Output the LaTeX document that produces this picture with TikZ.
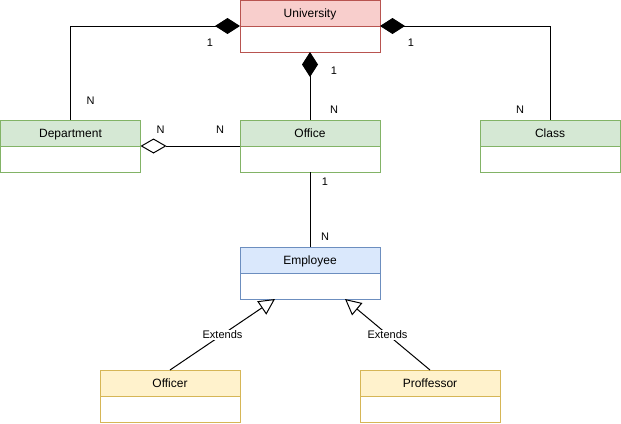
\documentclass[tikz,border=0pt]{standalone}
\usepackage{fontspec}
\setmainfont{Liberation Sans}
\usetikzlibrary{positioning,arrows.meta}

\definecolor{redFill}{HTML}{F8CECC}
\definecolor{redLine}{HTML}{B85450}
\definecolor{greenFill}{HTML}{D5E8D4}
\definecolor{greenLine}{HTML}{82B366}
\definecolor{blueFill}{HTML}{DAE8FC}
\definecolor{blueLine}{HTML}{6C8EBF}
\definecolor{yellowFill}{HTML}{FFF2CC}
\definecolor{yellowLine}{HTML}{D6B656}

\begin{document}
\begin{tikzpicture}[
			x=1pt, y=-1pt,
			head/.style = {shape=rectangle, draw, line width=1pt,
				minimum width=140pt, minimum height=26pt,
				inner sep=0pt, outer sep=0pt,
				text height=8.6pt, text depth=0pt,
				font=\fontsize{12}{14}\selectfont},
			body/.style = {shape=rectangle, draw, fill=white, line width=1pt,
				minimum width=140pt, minimum height=26pt,
				inner sep=0pt, outer sep=0pt},
			conn/.style = {draw, line width=1pt},
			lbl/.style = {inner sep=1pt, text height=8pt, text depth=0pt,
				font=\fontsize{11}{13}\selectfont},
			comp/.style = {-{Diamond[length=25pt,width=16pt]}},
			aggr/.style = {-{Diamond[open,fill=white,length=26pt,width=15pt]}},
			ext/.style = {-{Triangle[open,fill=white,length=16pt,width=16pt]}}]
			\useasboundingbox (0,0) rectangle (621,423);

			% classes
			\node[head, fill=redFill, draw=redLine] (uni) at (310,13) {University};
			\node[body, draw=redLine, below=0pt of uni] (uni-b) {};

			\node[head, fill=greenFill, draw=greenLine] (dept) at (70.5,133) {Department};
			\node[body, draw=greenLine, below=0pt of dept] (dept-b) {};

			\node[head, fill=greenFill, draw=greenLine] (office) at (310,133) {Office};
			\node[body, draw=greenLine, below=0pt of office] (office-b) {};

			\node[head, fill=greenFill, draw=greenLine] (class) at (550,133) {Class};
			\node[body, draw=greenLine, below=0pt of class] (class-b) {};

			\node[head, fill=blueFill, draw=blueLine] (emp) at (310,260) {Employee};
			\node[body, draw=blueLine, below=0pt of emp] (emp-b) {};

			\node[head, fill=yellowFill, draw=yellowLine] (officer) at (170,383) {Officer};
			\node[body, draw=yellowLine, below=0pt of officer] (officer-b) {};

			\node[head, fill=yellowFill, draw=yellowLine] (prof) at (430,383) {Proffessor};
			\node[body, draw=yellowLine, below=0pt of prof] (prof-b) {};

			% relations
			\draw[conn, comp] (dept.north) |- (uni.south west);
			\draw[conn, comp] (class.north) |- (uni.south east);
			\draw[conn, comp] (office.north) -- (uni-b.south);
			\draw[conn, aggr] (office.south west) -- (dept.south east);
			\draw[conn] (emp.north) -- (office-b.south);
			\draw[conn, ext] (officer.north) -- node[lbl, fill=white] {Extends} ([xshift=-35pt]emp-b.south);
			\draw[conn, ext] (prof.north) -- node[lbl, fill=white] {Extends} ([xshift=35pt]emp-b.south);

			% multiplicities
			\node[lbl] (m-uni-l) at ([xshift=-30pt,yshift=-16pt]uni.south west) {1};
			\node[lbl] (m-uni-r) at ([xshift=31pt,yshift=-16pt]uni.south east) {1};
			\node[lbl] (m-uni-b) at ([xshift=24pt,yshift=-18pt]uni-b.south) {1};
			\node[lbl] (m-dept) at ([xshift=20pt,yshift=20pt]dept.north) {N};
			\node[lbl] (m-class) at ([xshift=-30pt,yshift=11pt]class.north) {N};
			\node[lbl] (m-office-t) at ([xshift=24pt,yshift=11pt]office.north) {N};
			\node[lbl] (m-dept-r) at ([xshift=20pt,yshift=17pt]dept.south east) {N};
			\node[lbl] (m-office-l) at ([xshift=-20pt,yshift=17pt]office.south west) {N};
			\node[lbl] (m-office-b) at ([xshift=15pt,yshift=-9pt]office-b.south) {1};
			\node[lbl] (m-emp) at ([xshift=15pt,yshift=11pt]emp.north) {N};
\end{tikzpicture}
\end{document}
